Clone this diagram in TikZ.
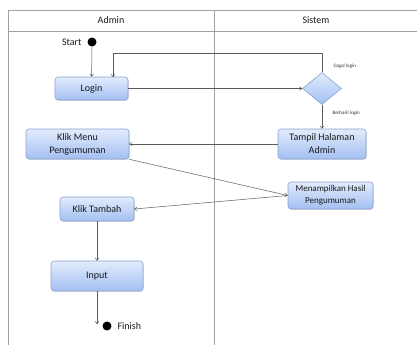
\documentclass[tikz,border=0pt]{standalone}
\usepackage{fontspec}
\setmainfont{Carlito}
\usetikzlibrary{shapes.geometric,arrows.meta,shadows}
\definecolor{boxtop}{HTML}{E2ECFC}
\definecolor{boxbot}{HTML}{A3BFF2}
\definecolor{boxdraw}{HTML}{8AA3D0}
\definecolor{lanecol}{HTML}{A0A0A0}
\definecolor{flowcol}{HTML}{5A5A5A}
\tikzset{
  act/.style={draw=boxdraw, line width=0.6pt, rounded corners=3pt, top color=boxtop, bottom color=boxbot,
    align=center, inner sep=0pt, font=\fontsize{10}{13}\selectfont, text=black!90,
    drop shadow={shadow xshift=0.8pt, shadow yshift=-0.8pt, opacity=0.25}},
  dec/.style={diamond, draw=boxdraw, line width=0.6pt, top color=boxtop, bottom color=boxbot,
    inner sep=0pt, minimum width=39pt, minimum height=32pt},
  lane/.style={draw=lanecol, line width=0.8pt},
  flow/.style={draw=flowcol, line width=0.5pt, -{To[length=3pt,width=4pt]}},
  dot/.style={circle, fill=black, inner sep=0pt, minimum size=9pt},
  small/.style={font=\fontsize{5}{6}\selectfont, text=black!80},
  lbl/.style={font=\fontsize{10}{12}\selectfont, text=black!90},
}
\begin{document}
\begin{tikzpicture}[x=1pt,y=-1pt]
\useasboundingbox (0,0) rectangle (417,345);
\fill[white] (0,0) rectangle (417,345);
% swimlanes
\draw[lane] (8,10) -- (417,10);
\draw[lane] (8,31) -- (417,31);
\draw[lane] (8,10) -- (8,345);
\draw[lane] (214,10) -- (214,345);
\node[lbl] (hadmin) at (111,20.5) {Admin};
\node[lbl] (hsistem) at (316,20.5) {Sistem};
% nodes
\node[dot] (start) at (92,42) {};
\node[lbl, anchor=east] (startl) at (85,42) {Start};
\node[act, minimum width=73pt, minimum height=23pt] (login) at (91.5,88.5) {Login};
\node[dec] (dec) at (322,88.5) {};
\node[small, anchor=west] (gagal) at (330,66) {Gagal login};
\node[small, anchor=west] (berhasil) at (329,113) {Berhasil login};
\node[act, minimum width=88pt, minimum height=30pt] (tampil) at (322,144) {Tampil Halaman\\Admin};
\node[act, minimum width=103pt, minimum height=30pt] (menu) at (77.5,144) {Klik Menu\\Pengumuman};
\node[act, minimum width=85pt, minimum height=27pt, font=\fontsize{9}{12}\selectfont] (hasil) at (330.5,195.5) {Menampilkan Hasil\\Pengumuman};
\node[act, minimum width=74pt, minimum height=24pt] (tambah) at (97,209) {Klik Tambah};
\node[act, minimum width=92pt, minimum height=30pt] (input) at (97,276) {Input};
\node[dot] (finish) at (107,326) {};
\node[lbl, anchor=west] (finishl) at (114,326) {Finish};
\coordinate (fend) at (97,324);
% flows
\draw[flow] (start) -- (login);
\draw[flow] (login) -- (dec);
\draw[flow] (dec.north) -- (322,53) -- (113,53) -- (113,77);
\draw[flow] (dec.south) -- (tampil);
\draw[flow] (tampil) -- (menu);
\draw[flow] (menu.south east) -- (hasil.west);
\draw[flow] (hasil.west) -- (tambah.east);
\draw[flow] (tambah) -- (input);
\draw[flow] (input) -- (fend);
\end{tikzpicture}
\end{document}
